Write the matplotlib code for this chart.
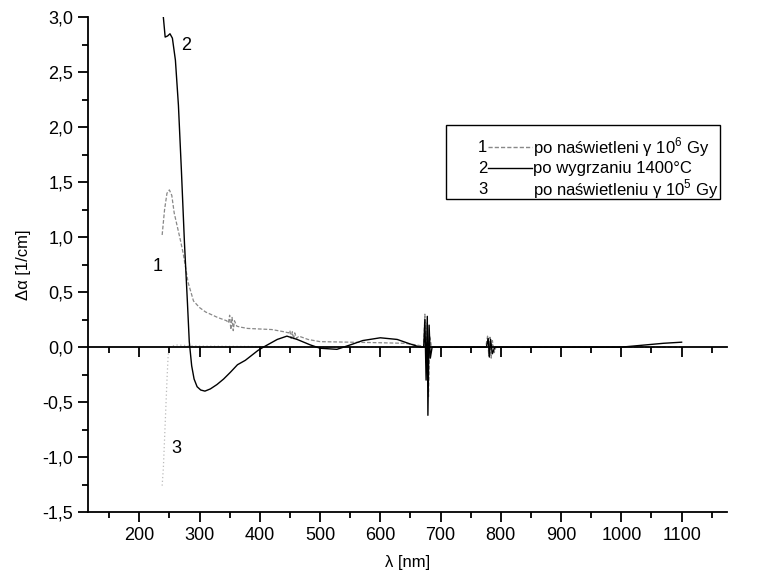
import matplotlib
matplotlib.use("Agg")
import matplotlib.pyplot as plt
from matplotlib.ticker import MultipleLocator, FuncFormatter

plt.rcParams['font.family'] = ['Liberation Sans', 'DejaVu Sans']
plt.rcParams['mathtext.fontset'] = 'custom'
plt.rcParams['mathtext.rm'] = 'Liberation Sans'

# curve 1: po naswietleni gamma 10^6 Gy (grey, dashed)
wl1 = [238, 242, 246, 250, 254, 258, 263, 268, 273, 281, 290, 300, 310, 330, 345,
       348, 350, 352, 354, 356, 358, 362, 370, 380, 400, 420, 440, 448, 450, 452,
       454, 456, 458, 461, 465, 480, 500, 550, 600, 640, 660, 670, 672, 674, 676,
       678, 680, 682, 685, 700, 775, 778, 780, 782, 784, 786, 789, 792, 800, 1100]
val1 = [1.02, 1.25, 1.40, 1.43, 1.38, 1.22, 1.10, 0.98, 0.85, 0.59, 0.42, 0.36, 0.32, 0.27, 0.24,
        0.22, 0.29, 0.16, 0.27, 0.15, 0.24, 0.19, 0.18, 0.17, 0.165, 0.16, 0.14, 0.13, 0.15, 0.08,
        0.14, 0.07, 0.13, 0.08, 0.10, 0.07, 0.05, 0.045, 0.04, 0.035, 0.02, 0.01, 0.0, 0.30, -0.15,
        0.22, -0.45, 0.10, 0.0, 0.0, 0.0, 0.10, -0.08, 0.09, -0.10, 0.06, -0.05, 0.0, 0.0, 0.0]

# curve 2: po wygrzaniu 1400 C (black, solid)
wl2 = [240, 243, 247, 251, 255, 260, 265, 270, 275, 280, 283, 287, 291, 296, 302, 309, 318, 329,
       340, 351, 363, 376, 397, 406, 429, 445, 462, 484, 500, 528, 550, 571, 600, 628,
       649, 666, 672, 674, 676, 678, 679, 681, 683, 686, 700, 776, 779, 781, 783,
       786, 790, 1000, 1040, 1070, 1100]
val2 = [3.00, 2.82, 2.83, 2.85, 2.81, 2.61, 2.20, 1.60, 0.95, 0.40, 0.05, -0.17, -0.29, -0.36, -0.39, -0.40, -0.38, -0.34,
        -0.29, -0.23, -0.16, -0.12, -0.03, 0.0, 0.07, 0.10, 0.07, 0.02, -0.01, -0.02, 0.02, 0.06, 0.085, 0.07,
        0.03, 0.0, 0.0, 0.25, -0.30, 0.28, -0.62, 0.20, -0.10, 0.0, 0.0, 0.0, 0.08, -0.09, 0.07,
        -0.06, 0.0, 0.0, 0.02, 0.035, 0.045]

# curve 3: po naswietleniu gamma 10^5 Gy (light grey, dotted)
wl3 = [238, 240, 243, 246, 248, 250, 260, 300, 500, 800, 1100]
val3 = [-1.26, -1.10, -0.70, -0.30, -0.07, 0.0, 0.02, 0.01, 0.0, 0.0, 0.0]

x_major = [200, 300, 400, 500, 600, 700, 800, 900, 1000, 1100]

legend_rows = [("1", "po naświetleni γ 10$^6$ Gy", '#888888', (0, (3, 1.5))),
               ("2", "po wygrzaniu 1400°C", 'black', '-'),
               ("3", "po naświetleniu γ 10$^5$ Gy", None, None)]


def comma(v, pos):
    return f"{v:.1f}".replace(".", ",")


fig = plt.figure(figsize=(7.79, 5.76), dpi=100)
pos = [0.113, 0.111, 0.820, 0.859]
ax = fig.add_axes(pos)

ax.plot(wl3, val3, color='#bbbbbb', lw=0.9, linestyle=(0, (1, 2)))
ax.plot(wl1, val1, color='#888888', lw=0.9, linestyle=(0, (3, 1.5)))
ax.plot(wl2, val2, color='black', lw=1.0)

ax.set_xlim(115, 1175)
ax.set_ylim(-1.5, 3.0)
ax.spines['top'].set_visible(False)
ax.spines['right'].set_visible(False)
for s in ('left', 'bottom'):
    ax.spines[s].set_linewidth(1.3)
ax.xaxis.set_major_locator(MultipleLocator(100))
ax.xaxis.set_minor_locator(MultipleLocator(50))
ax.set_xticks(x_major)
ax.yaxis.set_major_locator(MultipleLocator(0.5))
ax.yaxis.set_minor_locator(MultipleLocator(0.25))
ax.yaxis.set_major_formatter(FuncFormatter(comma))
ax.tick_params(which='major', direction='out', length=7, width=1.3, labelsize=13)
ax.tick_params(which='minor', direction='out', length=4, width=1.3)
ax.set_xlabel("λ [nm]", fontsize=12, labelpad=8)
ax.set_ylabel("Δα [1/cm]", fontsize=12, labelpad=8)

# zero line with its own ticks
ax0 = fig.add_axes(pos, sharex=ax)
ax0.set_ylim(-1.5, 3.0)
ax0.patch.set_visible(False)
for s in ('top', 'right', 'left'):
    ax0.spines[s].set_visible(False)
ax0.spines['bottom'].set_position(('data', 0))
ax0.spines['bottom'].set_linewidth(1.3)
ax0.tick_params(axis='x', which='major', direction='out', length=7, width=1.3, labelbottom=False)
ax0.tick_params(axis='x', which='minor', direction='out', length=4, width=1.3)
ax0.tick_params(axis='y', which='both', left=False, labelleft=False)

# curve numbers
ax.text(230, 0.73, "1", fontsize=13, ha='center', va='center')
ax.text(277, 2.74, "2", fontsize=13, ha='center', va='center')
ax.text(262, -0.92, "3", fontsize=13, ha='center', va='center')

# legend box drawn in axes coordinates
bx0, bx1 = (446 - 88) / 639, (720 - 88) / 639
by0, by1 = (512 - 199) / 495, (512 - 125) / 495
ax.add_patch(plt.Rectangle((bx0, by0), bx1 - bx0, by1 - by0, transform=ax.transAxes,
                           fill=False, lw=1.0, ec='black'))
row_y = [(512 - 147) / 495, (512 - 168) / 495, (512 - 189) / 495]
for (num, label, col, ls), yy in zip(legend_rows, row_y):
    ax.text((478 - 88) / 639, yy, num, transform=ax.transAxes, fontsize=12,
            ha='left', va='center')
    if col is not None:
        ax.plot([(488 - 88) / 639, (532 - 88) / 639], [yy, yy], transform=ax.transAxes,
                color=col, lw=1.0, linestyle=ls)
    ax.text((533 - 88) / 639, yy, label, transform=ax.transAxes, fontsize=12,
            ha='left', va='center')

fig.savefig("out.png", dpi=100)
